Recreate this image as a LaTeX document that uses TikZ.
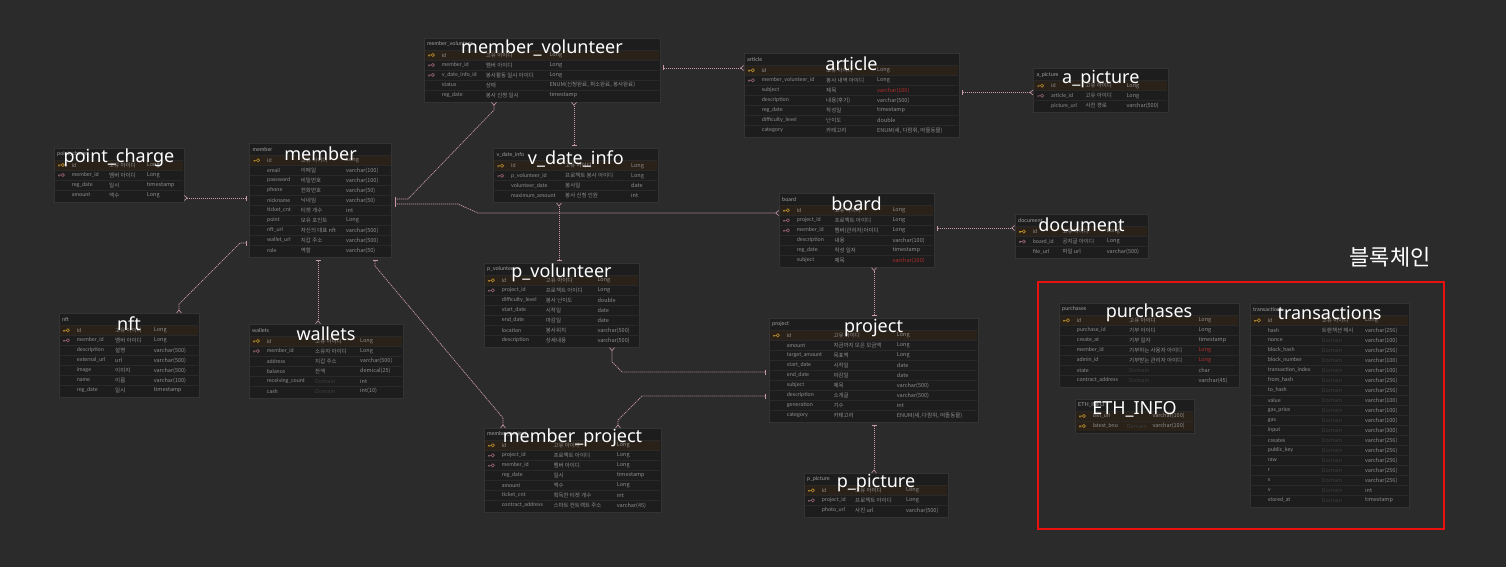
\documentclass[tikz,border=0pt]{standalone}
\usepackage{fontspec}
\setmainfont{Lato}
\newfontfamily\krf{Noto Sans CJK KR}
\newfontfamily\ttlf{Noto Sans}
\usetikzlibrary{arrows.meta}
\definecolor{bgc}{HTML}{2B2B2B}
\definecolor{tblc}{HTML}{1D1D1D}
\definecolor{tbld}{HTML}{333333}
\definecolor{sepc}{HTML}{292929}
\definecolor{pkrow}{HTML}{2A2119}
\definecolor{rowc}{HTML}{8E8E8E}
\definecolor{hdrc}{HTML}{A0A0A0}
\definecolor{pkc}{HTML}{B38B2D}
\definecolor{fkc}{HTML}{93616E}
\definecolor{redc}{HTML}{B02E2E}
\definecolor{domc}{HTML}{3C3C3C}
\definecolor{relc}{HTML}{C99AA5}
\definecolor{framec}{HTML}{E8110F}
\newcommand{\dom}{\textcolor{domc}{Domain}}

\tikzset{
  tbox/.style={fill=tblc, draw=tbld, line width=0.5pt, inner sep=0pt, outer sep=0pt},
  hdr/.style={font=\fontsize{5.5}{6}\selectfont, text=hdrc, inner sep=0pt, anchor=west},
  cell/.style={font=\fontsize{5.5}{6}\selectfont, text=rowc, inner sep=0pt, anchor=west},
  kcell/.style={cell, font=\krf\fontsize{5.5}{6}\selectfont},
  ttl/.style={font=\ttlf\fontsize{18}{20}\selectfont, text=white, inner sep=0pt},
  rowsep/.style={draw=sepc, line width=0.5pt},
  rowfill p/.style={fill=pkrow}, rowfill f/.style={}, rowfill n/.style={}, rowfill r/.style={},
  keyline/.style={},
  keycol p/.style={keyline/.style={draw=pkc, line width=0.6pt}},
  keycol f/.style={keyline/.style={draw=fkc, line width=0.6pt}},
  keycol n/.style={}, keycol r/.style={},
  typ p/.style={}, typ f/.style={}, typ n/.style={}, typ r/.style={text=redc},
  keyicon/.pic={\path[keyline] (-2.8,0) -- (0.2,0) (-2.4,0) -- (-2.4,1.4) (-1.4,0) -- (-1.4,1.4) (1.8,0) circle[radius=1.6];},
  rel/.style={draw=relc, line width=0.7pt, dash pattern=on 1.2pt off 0.8pt},
  barend/.tip={Bar[width=5pt, line width=0.7pt, sep=3pt]},
  crowend/.tip={Straight Barb[reversed, length=3pt, width=5pt, line width=0.6pt]},
  redframe/.style={draw=framec, line width=1.6pt, inner sep=0pt, outer sep=0pt},
  chainlbl/.style={font=\krf\fontsize{22}{24}\selectfont, text=white, inner sep=0pt},
}

% #1 node name, #2 title, #3 x, #4 y, #5 width, #6 rows, #7 comment col, #8 type col, #9 rows
\newcommand{\erdtable}[9]{%
  \node[tbox, anchor=north west, minimum width=#5pt, minimum height=#6*10pt+14pt] (#1) at (#3,#4) {};
  \foreach \kc/\cn/\cm/\ct [count=\ri] in {#9}{
    \pgfmathsetmacro\yt{#4+12+10*(\ri-1)}
    \pgfmathsetmacro\yc{\yt+5}
    \path[rowfill \kc] (#3+1,\yt) rectangle (#3+#5-1,\yt+10);
    \draw[rowsep] (#3+1,\yt) -- (#3+#5-1,\yt);
    \pic[keycol \kc] at (#3+7,\yc) {keyicon};
    \node[cell] (#1-\ri-n) at (#3+17.7,\yc) {\cn};
    \node[kcell] (#1-\ri-c) at (#3+#7,\yc) {\cm};
    \node[kcell, typ \kc] (#1-\ri-t) at (#3+#8,\yc) {\ct};
  }
  \node[hdr] (#1-h) at (#3+3,#4+6) {#2};
  \node[ttl] (#1-t) at (#3+#5/2,#4+10) {#2};
}

\begin{document}
\begin{tikzpicture}[x=1pt,y=-1pt]
\fill[bgc] (0,0) rectangle (1506,567);
\useasboundingbox (0,0) rectangle (1506,567);

% Tables
\erdtable{mvol}{member\_volunteer}{424}{38}{236}{5}{61.7}{125.3}{%
  p/id/고유 아이디/Long,%
  f/member\_id/멤버 아이디/Long,%
  f/v\_date\_info\_id/봉사활동 일시 아이디/Long,%
  n/status/상태/{ENUM(신청완료, 취소완료, 봉사완료)},%
  n/reg\_date/봉사 신청 일시/timestamp}
\erdtable{article}{article}{744}{53.3}{215}{7}{82}{133}{%
  p/id/고유 아이디/Long,%
  f/member\_volunteer\_id/봉사 내역 아이디/Long,%
  r/subject/제목/varchar(100),%
  n/description/내용(후기)/varchar(500),%
  n/reg\_date/작성일/timestamp,%
  n/difficulty\_level/난이도/double,%
  n/category/카테고리/{ENUM(새, 다람쥐, 떠돌동물)}}
\erdtable{apic}{a\_picture}{1033.3}{68.7}{135}{3}{52}{93}{%
  p/id/고유 아이디/Long,%
  f/article\_id/고유 아이디/Long,%
  n/picture\_url/사진 경로/varchar(500)}
\erdtable{pcharge}{point\_charge}{54}{148}{130}{4}{55}{92.7}{%
  p/id/고유 아이디/Long,%
  f/member\_id/멤버 아이디/Long,%
  n/reg\_date/일시/timestamp,%
  n/amount/액수/Long}
\erdtable{member}{member}{249.3}{143.3}{142.4}{10}{51.4}{96.7}{%
  p/id/고유 아이디/Long,%
  n/email/이메일/varchar(100),%
  n/password/비밀번호/varchar(100),%
  n/phone/전화번호/varchar(50),%
  n/nickname/닉네임/varchar(50),%
  n/ticket\_cnt/티켓 개수/int,%
  n/point/보유 포인트/Long,%
  n/nft\_url/자신의 대표 nft/varchar(500),%
  n/wallet\_url/지갑 주소/varchar(500),%
  n/role/역할/varchar(50)}
\erdtable{vdate}{v\_date\_info}{493.3}{148.7}{165}{4}{71.7}{137.7}{%
  p/id/고유 아이디/Long,%
  f/p\_volunteer\_id/프로젝트 봉사 아이디/Long,%
  n/volunteer\_date/봉사일/date,%
  n/maximum\_amount/봉사 신청 인원/int}
\erdtable{board}{board}{779}{193.3}{155}{6}{55.3}{113.3}{%
  p/id/고유 아이디/Long,%
  f/project\_id/프로젝트 아이디/Long,%
  f/member\_id/멤버(관리자)아이디/Long,%
  n/description/내용/varchar(100),%
  n/reg\_date/작성 일자/timestamp,%
  r/subject/제목/varchar(100)}
\erdtable{document}{document}{1015}{214.5}{133}{3}{47.3}{91.7}{%
  p/id/고유 아이디/Long,%
  f/board\_id/공지글 아이디/Long,%
  n/file\_url/파일 url/varchar(500)}
\erdtable{nft}{nft}{59}{313.3}{140}{7}{56}{94.7}{%
  p/id/고유 아이디/Long,%
  f/member\_id/멤버 아이디/Long,%
  n/description/설명/varchar(500),%
  n/external\_url/url/varchar(500),%
  n/image/이미지/varchar(500),%
  n/name/이름/varchar(100),%
  n/reg\_date/일시/timestamp}
\erdtable{wallets}{wallets}{249}{324}{154}{6}{66}{111}{%
  p/id/고유 아이디/Long,%
  f/member\_id/소유자 아이디/Long,%
  n/address/지갑 주소/varchar(500),%
  n/balance/잔액/demical(25),%
  n/receiving\_count/\dom/int,%
  n/cash/\dom/int(10)}
\erdtable{pvol}{p\_volunteer}{484}{263.3}{155}{7}{61.7}{113.3}{%
  p/id/고유 아이디/Long,%
  f/project\_id/프로젝트 아이디/Long,%
  n/difficulty\_level/봉사 난이도/double,%
  n/start\_date/시작일/date,%
  n/end\_date/마감일/date,%
  n/location/봉사위치/varchar(500),%
  n/description/상세내용/varchar(500)}
\erdtable{project}{project}{769}{318.3}{209}{9}{64.3}{127.7}{%
  p/id/고유 아이디/Long,%
  n/amount/지금까지 모은 모금액/Long,%
  n/target\_amount/목표액/Long,%
  n/start\_date/시작일/date,%
  n/end\_date/마감일/date,%
  n/subject/제목/varchar(500),%
  n/description/소개글/varchar(500),%
  n/generation/기수/int,%
  n/category/카테고리/{ENUM(새, 다람쥐, 떠돌동물)}}
\erdtable{mproj}{member\_project}{484}{428.3}{177}{7}{69.3}{132.7}{%
  p/id/고유 아이디/Long,%
  f/project\_id/프로젝트 아이디/Long,%
  f/member\_id/멤버 아이디/Long,%
  n/reg\_date/일시/timestamp,%
  n/amount/액수/Long,%
  n/ticket\_cnt/획득한 티켓 개수/int,%
  n/contract\_address/스마트 컨트랙트 주소/varchar(45)}
\erdtable{ppic}{p\_picture}{804}{473.3}{144}{3}{51}{102}{%
  p/id/고유 아이디/Long,%
  f/project\_id/프로젝트 아이디/Long,%
  n/photo\_url/사진 url/varchar(500)}
\erdtable{purchases}{purchases}{1059}{303.3}{180}{7}{70}{139.3}{%
  p/id/고유 아이디/Long,%
  n/purchase\_id/기부 아이디/Long,%
  n/create\_at/기부 일자/timestamp,%
  r/member\_id/기부하는 사용자 아이디/Long,%
  r/admin\_id/기부받는 관리자 아이디/Long,%
  n/state/\dom/char,%
  n/contract\_address/\dom/varchar(45)}
\erdtable{ethinfo}{ETH\_INFO}{1075}{399}{119}{2}{51.7}{77.3}{%
  p/last\_url/{}/varchar(100),%
  p/latest\_bno/\dom/varchar(100)}
\erdtable{txns}{transactions}{1250}{303.3}{159}{19}{71.7}{115}{%
  p/id/고유 아이디/Long,%
  n/hash/트랜잭션 해시/varchar(256),%
  n/nonce/\dom/varchar(100),%
  n/block\_hash/\dom/varchar(256),%
  n/block\_number/\dom/varchar(100),%
  n/transaction\_index/\dom/varchar(100),%
  n/from\_hash/\dom/varchar(256),%
  n/to\_hash/\dom/varchar(256),%
  n/value/\dom/varchar(100),%
  n/gas\_price/\dom/varchar(100),%
  n/gas/\dom/varchar(100),%
  n/input/\dom/varchar(300),%
  n/creates/\dom/varchar(256),%
  n/public\_key/\dom/varchar(256),%
  n/raw/\dom/varchar(256),%
  n/r/\dom/varchar(256),%
  n/s/\dom/varchar(256),%
  n/v/\dom/int,%
  n/stored\_at/\dom/timestamp}

% Blockchain group
\node[redframe, anchor=north west, minimum width=406pt, minimum height=247pt] (chain) at (1038,282) {};
\node[chainlbl] (chaintxt) at (1390,257) {블록체인};

% Relations
\draw[rel, barend-crowend] (mvol.east |- 0,68) -- (article.west |- 0,68);
\draw[rel, barend-crowend] (article.east |- 0,92.5) -- (apic.west |- 0,92.5);
\draw[rel, barend-crowend] (vdate.north -| 574,0) -- (mvol.south -| 574,0);
\draw[rel, barend-crowend] (member.east |- 0,199) -- (408,199) -- (494,110) -- (mvol.south -| 494,0);
\draw[rel, barend-crowend] (member.west |- 0,198) -- (pcharge.east |- 0,198);
\draw[rel, barend-crowend] (member.west |- 0,243) -- (240,243) -- (179,304) -- (nft.north -| 179,0);
\draw[rel, barend-crowend] (member.south -| 318,0) -- (wallets.north -| 318,0);
\draw[rel, barend-crowend] (member.south -| 375,0) -- (375,266) -- (503,418) -- (mproj.north -| 503,0);
\draw[rel, barend-crowend] (member.east |- 0,204) -- (458,204) -- (478,213) -- (board.west |- 0,213);
\draw[rel, barend-crowend] (pvol.north -| 559,0) -- (vdate.south -| 559,0);
\draw[rel, barend-crowend] (project.west |- 0,372) -- (622,372) -- (612,362) -- (pvol.south -| 612,0);
\draw[rel, barend-crowend] (project.west |- 0,396) -- (642,396) -- (618,420) -- (mproj.north -| 618,0);
\draw[rel, barend-crowend] (project.north -| 874,0) -- (board.south -| 874,0);
\draw[rel, barend-crowend] (board.east |- 0,228) -- (document.west |- 0,228);
\draw[rel, barend-crowend] (project.south -| 874,0) -- (ppic.north -| 874,0);

\end{tikzpicture}
\end{document}
